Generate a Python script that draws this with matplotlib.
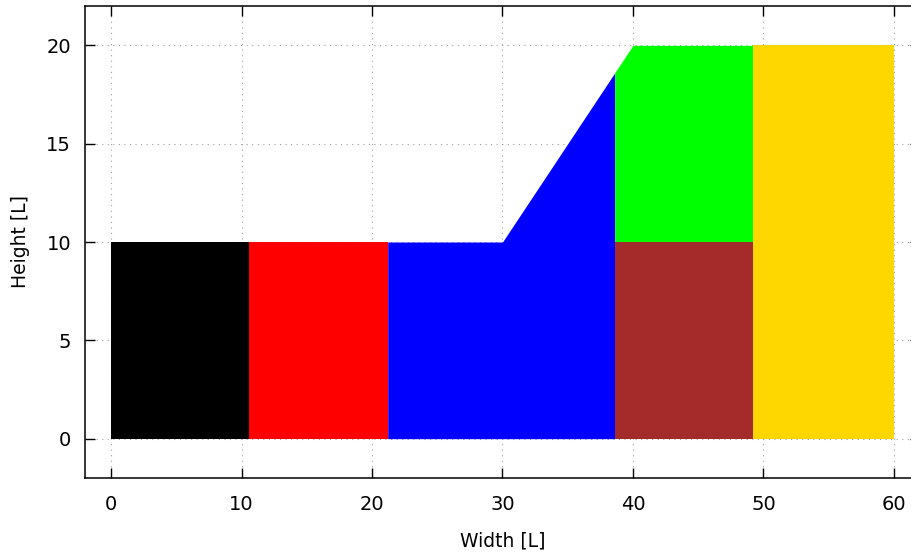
import matplotlib
matplotlib.use("Agg")
import matplotlib.pyplot as plt
import numpy as np

# Region data: x breakpoints, lower and upper heights
region_names = ["black", "red", "blue", "green", "brown", "gold"]
region_colors = ["#000000", "#ff0000", "#0000ff", "#00ff00", "#a52a2a", "#ffd700"]
region_x = [
    [0.0, 10.6],
    [10.6, 21.2],
    [21.2, 30.0, 38.6],
    [38.6, 40.0, 49.2],
    [38.6, 49.2],
    [49.2, 60.0],
]
region_low = [
    [0, 0],
    [0, 0],
    [0, 0, 0],
    [10, 10, 10],
    [0, 0],
    [0, 0],
]
region_high = [
    [10, 10],
    [10, 10],
    [10, 10, 18.6],
    [18.6, 20, 20],
    [10, 10],
    [20, 20],
]

x_ticks = [0, 10, 20, 30, 40, 50, 60]
y_ticks = [0, 5, 10, 15, 20]

fig = plt.figure(figsize=(9.12, 5.56), dpi=100)
ax = fig.add_axes([85 / 912, 1 - 478 / 556, (920 - 85) / 912, (478 - 6) / 556])

for xs, lo, hi, c in zip(region_x, region_low, region_high, region_colors):
    ax.fill_between(xs, lo, hi, color=c, linewidth=0, zorder=2)

ax.set_xlim(-2, 62)
ax.set_ylim(-2, 22)
ax.set_xticks(x_ticks)
ax.set_yticks(y_ticks)
ax.set_axisbelow(True)
ax.grid(True, color="#a0a0a0", linestyle=(0, (1, 4)), linewidth=0.8, zorder=0)
ax.tick_params(direction="in", length=7, width=1.0, top=True, right=True,
               labelsize=14, colors="black")
ax.tick_params(axis="x", pad=12)
ax.tick_params(axis="y", pad=10)
for s in ax.spines.values():
    s.set_linewidth(1.1)
ax.set_xlabel("Width [L]", fontsize=13.5, labelpad=13)
ax.set_ylabel("Height [L]", fontsize=13.5, labelpad=12)

fig.savefig("out.png", dpi=100)
